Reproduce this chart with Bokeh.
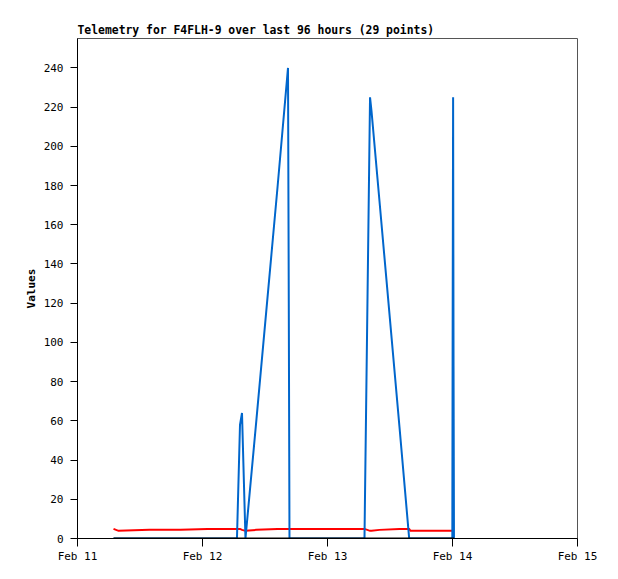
from datetime import datetime
from bokeh.plotting import figure
from bokeh.models import FixedTicker, DatetimeTickFormatter, Range1d
from bokeh.embed import file_html
from bokeh.resources import INLINE

times = [
    "2025-02-11 06:55", "2025-02-11 07:52", "2025-02-11 13:49", "2025-02-11 19:47",
    "2025-02-12 00:58", "2025-02-12 06:37", "2025-02-12 07:12", "2025-02-12 07:35",
    "2025-02-12 08:15", "2025-02-12 10:22", "2025-02-12 14:24", "2025-02-12 16:25",
    "2025-02-12 16:34", "2025-02-12 16:42", "2025-02-12 22:39", "2025-02-13 02:30",
    "2025-02-13 07:06", "2025-02-13 08:10", "2025-02-13 08:27", "2025-02-13 09:59",
    "2025-02-13 13:49", "2025-02-13 15:41", "2025-02-13 15:56", "2025-02-13 19:47",
    "2025-02-13 23:58", "2025-02-14 00:02", "2025-02-14 00:07", "2025-02-14 00:12",
    "2025-02-14 00:17",
]
values_blue = [0, 0, 0, 0, 0, 0, 58, 64, 0, 61, 179, 240, 120, 0, 0, 0,
               0, 225, 218, 172, 57, 0, 0, 0, 0, 112, 225, 88, 0]
values_red = [4.9, 3.9, 4.4, 4.4, 4.9, 4.9, 4.9, 4.4, 3.9, 4.4, 4.9, 4.9, 4.9, 4.9, 4.9, 4.9,
              4.9, 3.9, 3.9, 4.4, 4.9, 4.9, 3.9, 3.9, 3.9, 3.9, 3.9, 3.9, 3.9]
values_black = [0] * 29

x_tick_days = ["2025-02-11", "2025-02-12", "2025-02-13", "2025-02-14", "2025-02-15"]
y_ticks = [0, 20, 40, 60, 80, 100, 120, 140, 160, 180, 200, 220, 240]
title_text = "Telemetry for F4FLH-9 over last 96 hours (29 points)"

EPOCH = datetime(1970, 1, 1)
x = [datetime.strptime(t, "%Y-%m-%d %H:%M") for t in times]
tick_dt = [datetime.strptime(d, "%Y-%m-%d") for d in x_tick_days]
tick_ms = [(d - EPOCH).total_seconds() * 1000 for d in tick_dt]

FONT = "DejaVu Sans Mono"

p = figure(
    frame_width=500, frame_height=500,
    min_border_left=77, min_border_right=41, min_border_top=38, min_border_bottom=41,
    x_axis_type="datetime", output_backend="svg", toolbar_location=None,
    x_range=Range1d(tick_dt[0], tick_dt[-1]), y_range=Range1d(0, 255),
    title=title_text,
)
p.background_fill_color = "white"
p.border_fill_color = "white"
p.outline_line_color = "#555555"
p.outline_line_width = 1
p.grid.visible = False

p.title.text_font = FONT
p.title.text_font_size = "11.4px"
p.title.text_font_style = "bold"
p.title.text_color = "black"
p.title.align = "left"
p.title.standoff = 3
p.title.offset = 0

p.xaxis.ticker = FixedTicker(ticks=tick_ms)
fmt = "%b %d"
p.xaxis.formatter = DatetimeTickFormatter(
    milliseconds=fmt, seconds=fmt, minsec=fmt, minutes=fmt, hourmin=fmt,
    hours=fmt, days=fmt, months=fmt, years=fmt)
p.yaxis.ticker = FixedTicker(ticks=y_ticks)

for ax in (p.xaxis, p.yaxis):
    ax.axis_line_color = "black"
    ax.axis_line_width = 1
    ax.major_tick_line_color = "black"
    ax.major_tick_in = 0
    ax.minor_tick_line_color = None
    ax.major_label_text_font = FONT
    ax.major_label_text_font_size = "11px"
    ax.major_label_text_color = "black"
p.xaxis.major_tick_out = 8
p.xaxis.major_label_standoff = 3
p.yaxis.major_tick_out = 7
p.yaxis.major_label_standoff = 7

p.yaxis.axis_label = "Values"
p.yaxis.axis_label_text_font = FONT
p.yaxis.axis_label_text_font_size = "11px"
p.yaxis.axis_label_text_font_style = "bold"
p.yaxis.axis_label_text_color = "black"
p.yaxis.axis_label_standoff = 3

p.line(x, values_red, line_color="#ff0000", line_width=2, line_join="miter")
p.line(x, values_blue, line_color="#0066cc", line_width=2, line_join="miter")
p.line(x, values_black, line_color="#000000", line_width=2)

open("out.html", "w").write(file_html(p, INLINE))
